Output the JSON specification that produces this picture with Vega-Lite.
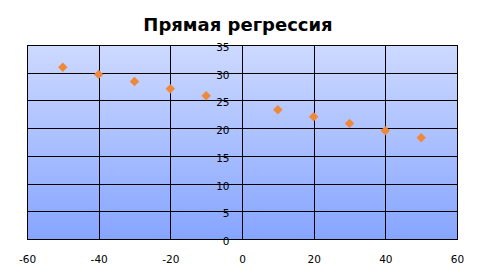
{
  "$schema": "https://vega.github.io/schema/vega-lite/v6.json",
  "autosize": {"type": "none"},
  "padding": {"left": 27, "top": 45, "right": 25, "bottom": 36},
  "width": 430,
  "height": 194,
  "background": "white",
  "title": {
    "text": "Прямая регрессия",
    "font": "DejaVu Sans",
    "fontSize": 18,
    "fontWeight": "bold",
    "color": "black",
    "anchor": "middle",
    "baseline": "alphabetic",
    "offset": 17,
    "dx": -4,
    "dy": 23
  },
  "data": {
    "values": [
      {"x": -50, "y": 31.0},
      {"x": -40, "y": 29.7},
      {"x": -30, "y": 28.4},
      {"x": -20, "y": 27.1},
      {"x": -10, "y": 25.85},
      {"x": 10, "y": 23.3},
      {"x": 20, "y": 22.07},
      {"x": 30, "y": 20.86},
      {"x": 40, "y": 19.54},
      {"x": 50, "y": 18.28}
    ]
  },
  "mark": {"type": "point", "shape": "diamond", "filled": true, "size": 90, "color": "#F0883A", "opacity": 1},
  "encoding": {
    "x": {
      "field": "x",
      "type": "quantitative",
      "scale": {"domain": [-60, 60], "nice": false, "zero": false},
      "axis": {
        "title": null,
        "values": [-60, -40, -20, 0, 20, 40, 60],
        "labelExpr": "datum.value < 0 ? '-' + abs(datum.value) : '' + datum.value",
        "grid": true,
        "gridColor": "black",
        "gridOpacity": 1,
        "gridWidth": 1,
        "ticks": false,
        "domain": false,
        "labelPadding": 15,
        "labelFont": "DejaVu Sans",
        "labelFontSize": 10.5,
        "labelColor": "black",
        "labelFlush": false
      }
    },
    "y": {
      "field": "y",
      "type": "quantitative",
      "scale": {"domain": [0, 35], "nice": false},
      "axis": {
        "title": null,
        "values": [0, 5, 10, 15, 20, 25, 30, 35],
        "offset": -215,
        "grid": true,
        "gridColor": "black",
        "gridOpacity": 1,
        "gridWidth": 1,
        "ticks": false,
        "domain": false,
        "labelPadding": 13,
        "labelBaseline": "middle",
        "labelOffset": 2.5,
        "labelFont": "DejaVu Sans",
        "labelFontSize": 10.5,
        "labelColor": "black",
        "labelFlush": false
      }
    }
  },
  "config": {
    "view": {
      "stroke": "black",
      "strokeWidth": 1,
      "fill": {
        "gradient": "linear",
        "x1": 0, "y1": 0, "x2": 0, "y2": 1,
        "stops": [
          {"offset": 0, "color": "#CDD9FF"},
          {"offset": 1, "color": "#86A5FF"}
        ]
      }
    }
  }
}
